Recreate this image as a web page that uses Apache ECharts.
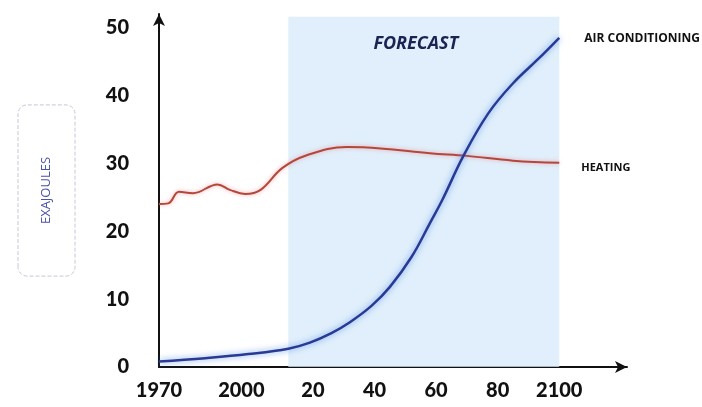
<!DOCTYPE html>
<html>
<head>
<meta charset="utf-8">
<script src="https://cdn.jsdelivr.net/npm/echarts@6/dist/echarts.min.js"></script>
<style>
  html, body { margin: 0; padding: 0; background: #fff; }
  #chart { width: 702px; height: 407px; }
</style>
</head>
<body>
<div id="chart"></div>
<script>
// values (year, exajoules)
const acYears = [1970, 1985, 1999, 2012, 2019, 2026, 2032, 2039, 2045, 2052, 2058, 2062, 2069, 2077, 2085, 2093, 2100]
const acValues = [0.8, 1.3, 1.9, 2.7, 3.6, 5.0, 6.6, 9.0, 11.8, 16.2, 21.2, 24.6, 31.2, 37.4, 41.8, 45.3, 48.5]

const heatYears = [1970, 1973, 1976.5, 1981, 1989, 1993, 1998, 2003, 2010, 2018, 2031, 2042, 2058, 2070, 2085, 2100]
const heatValues = [24.0, 24.1, 25.8, 25.6, 26.9, 26.1, 25.5, 26.1, 29.3, 31.2, 32.4, 32.2, 31.5, 31.1, 30.4, 30.1]

const forecastSpan = [2012, 2100]
const xTickYears = [1970, 2000, 2020, 2040, 2060, 2080, 2100]
const xTickLabels = ['1970', '2000', '20', '40', '60', '80', '2100']

const chart = echarts.init(document.getElementById('chart'))
const pair = (xs, ys) => xs.map((x, i) => [x, ys[i]])

chart.setOption({
  animation: false,
  grid: { left: 159, right: 75, top: 14, bottom: 40, outerBoundsMode: 'none', containLabel: false },
  xAxis: {
    type: 'value',
    min: 1970,
    max: 2122,
    interval: 10,
    splitLine: { show: false },
    axisTick: { show: false },
    axisLine: { lineStyle: { color: '#111', width: 2 }, symbol: ['none', 'arrow'], symbolSize: [9, 12] },
    axisLabel: {
      margin: 14,
      color: '#111',
      fontFamily: 'Lato',
      fontWeight: 900,
      fontSize: 20,
      formatter: v => {
        const i = xTickYears.indexOf(v)
        if (i < 0) return ''
        return v === 2000 ? '{l|' + xTickLabels[i] + '}' : xTickLabels[i]
      },
      rich: { l: { fontFamily: 'Lato', fontWeight: 900, fontSize: 20, color: '#111', padding: [0, 20, 0, 0] } }
    }
  },
  yAxis: {
    type: 'value',
    min: 0,
    max: 52,
    interval: 10,
    name: 'EXAJOULES',
    nameLocation: 'middle',
    nameRotate: 90,
    nameGap: 84,
    nameTextStyle: {
      color: '#4a52a8',
      fontFamily: 'Open Sans',
      fontSize: 13,
      borderColor: '#c4c6d8',
      borderType: 'dashed',
      borderWidth: 1,
      borderRadius: 9,
      padding: [22, 52, 22, 52]
    },
    splitLine: { show: false },
    axisTick: { show: false },
    axisLine: { show: true, lineStyle: { color: '#111', width: 2 }, symbol: ['none', 'arrow'], symbolSize: [9, 12] },
    axisLabel: {
      margin: 30,
      color: '#111',
      fontFamily: 'Lato',
      fontWeight: 900,
      fontSize: 20,
      formatter: v => (v % 10 === 0 ? String(v) : '')
    }
  },
  series: [
    {
      name: 'HEATING',
      type: 'line',
      smooth: 0.4,
      showSymbol: false,
      data: pair(heatYears, heatValues),
      lineStyle: { color: '#b5473a', width: 2, shadowColor: 'rgba(230,110,120,0.6)', shadowBlur: 4 },
      endLabel: {
        show: true,
        formatter: '{a}',
        offset: [14, 5],
        color: '#111',
        fontFamily: 'Open Sans',
        fontWeight: 'bold',
        fontSize: 11
      },
      markArea: {
        silent: true,
        itemStyle: { color: 'rgba(214,233,250,0.75)' },
        label: {
          show: true,
          position: 'insideTop',
          offset: [-8, 13],
          color: '#1b2353',
          fontFamily: 'Open Sans',
          fontStyle: 'italic',
          fontWeight: 'bold',
          fontSize: 18,
          formatter: 'FORECAST'
        },
        data: [[{ xAxis: forecastSpan[0], yAxis: 0 }, { xAxis: forecastSpan[1], yAxis: 51.6 }]]
      },
      z: 3
    },
    {
      name: 'AIR CONDITIONING',
      type: 'line',
      smooth: 0.4,
      showSymbol: false,
      data: pair(acYears, acValues),
      lineStyle: { color: '#283a94', width: 2.5, shadowColor: 'rgba(70,130,230,0.8)', shadowBlur: 6 },
      endLabel: {
        show: true,
        formatter: '{a}',
        offset: [17, 1],
        color: '#111',
        fontFamily: 'Open Sans',
        fontWeight: 'bold',
        fontSize: 12
      },
      z: 4
    }
  ]
})
</script>
</body>
</html>
